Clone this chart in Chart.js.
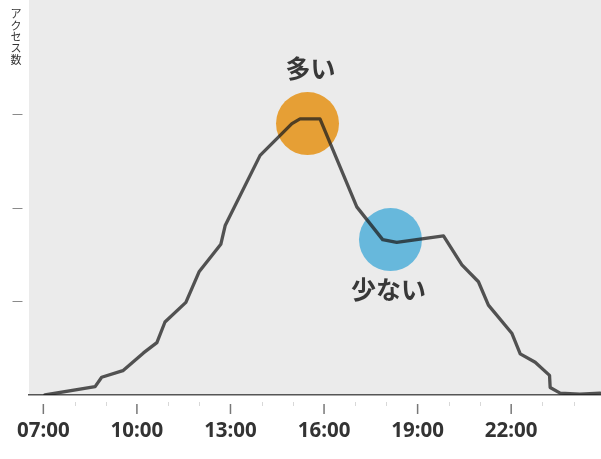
<!DOCTYPE html>
<html>
<head>
<meta charset="utf-8">
<script src="https://cdn.jsdelivr.net/npm/chart.js@4.4.1/dist/chart.umd.min.js"></script>
<style>
  html, body { margin: 0; padding: 0; background: #fff; }
  #wrap { width: 601px; height: 459px; position: relative; }
</style>
</head>
<body>
<div id="wrap"><canvas id="accessChart"></canvas></div>
<script>
// access count over the day (hour of day, relative volume)
const hours = [7.05, 8.66, 8.87, 9.55, 10.21, 10.64, 10.9, 11.57, 12.0, 12.69, 12.83, 13.95, 14.97, 15.23, 15.87, 17.05, 17.88, 18.33, 19.83, 20.42, 20.95, 21.27, 22.02, 22.29, 22.77, 23.23, 23.25, 23.57, 24.2, 24.85];
const accessCounts = [0.0, 0.09, 0.19, 0.26, 0.45, 0.56, 0.78, 0.99, 1.32, 1.61, 1.81, 2.56, 2.9, 2.95, 2.95, 2.01, 1.66, 1.63, 1.7, 1.39, 1.21, 0.96, 0.66, 0.44, 0.35, 0.21, 0.08, 0.02, 0.01, 0.02];

const xTickHours = [7, 10, 13, 16, 19, 22];
const xTickLabels = ["07:00", "10:00", "13:00", "16:00", "19:00", "22:00"];
const minorTickHours = [8, 9, 11, 12, 14, 15, 17, 18, 20, 21, 23, 24];
const yTickValues = [1, 2, 3];
const yTickLabel = "—";
const yTitle = "アクセス数";

// highlighted spots
const markerHours = [15.47, 18.13];
const markerValues = [2.9, 1.66];
const markerLabels = ["多い", "少ない"];
const markerColors = ["#E69F35", "#67B8DC"];

const plotBackground = {
  id: "plotBackground",
  beforeDraw(chart) {
    const { ctx, chartArea } = chart;
    ctx.save();
    ctx.fillStyle = "#EBEBEB";
    ctx.fillRect(chartArea.left, chartArea.top, chartArea.right - chartArea.left, chartArea.bottom - chartArea.top);
    ctx.restore();
  }
};

const extras = {
  id: "extras",
  afterDraw(chart) {
    const { ctx, chartArea } = chart;
    const x = chart.scales.x;
    ctx.save();
    // x tick marks, set a bit below the axis line
    const base = chartArea.bottom;
    ctx.lineWidth = 1;
    ctx.strokeStyle = "#d8d8d8";
    minorTickHours.forEach(h => {
      const px = Math.round(x.getPixelForValue(h)) + 0.5;
      ctx.beginPath();
      ctx.moveTo(px, base + 7);
      ctx.lineTo(px, base + 11);
      ctx.stroke();
    });
    ctx.lineWidth = 1.5;
    ctx.strokeStyle = "#777";
    xTickHours.forEach(h => {
      const px = x.getPixelForValue(h);
      ctx.beginPath();
      ctx.moveTo(px, base + 9);
      ctx.lineTo(px, base + 19);
      ctx.stroke();
    });

    // vertical y title, upright characters
    ctx.fillStyle = "#333";
    ctx.font = '11px "Noto Sans CJK JP"';
    ctx.textAlign = "center";
    ctx.textBaseline = "middle";
    Array.from(yTitle).forEach((ch, i) => {
      ctx.fillText(ch, 16, 14 + i * 11.4);
    });

    // labels for the highlighted spots
    const meta = chart.getDatasetMeta(1);
    ctx.font = 'bold 25px "Noto Sans CJK JP"';
    ctx.fillStyle = "#383838";
    meta.data.forEach((pt, i) => {
      const dy = i === 0 ? -55 : 50;
      ctx.fillText(markerLabels[i], pt.x + (i === 0 ? 3 : -2), pt.y + dy);
    });
    ctx.restore();
  }
};

function noPadding(scale) {
  scale.paddingTop = 0;
  scale.paddingBottom = 0;
  scale.paddingLeft = 0;
  scale.paddingRight = 0;
}

const ctx = document.getElementById("accessChart").getContext("2d");
new Chart(ctx, {
  type: "line",
  data: {
    datasets: [
      {
        data: hours.map((h, i) => ({ x: h, y: accessCounts[i] })),
        borderColor: "rgba(30, 30, 30, 0.75)",
        borderWidth: 3.3,
        borderJoinStyle: "round",
        borderCapStyle: "round",
        pointRadius: 0,
        fill: false,
        tension: 0,
        order: 1
      },
      {
        data: markerHours.map((h, i) => ({ x: h, y: markerValues[i] })),
        showLine: false,
        pointRadius: 31.5,
        pointHoverRadius: 31.5,
        pointBorderWidth: 0,
        pointBackgroundColor: markerColors,
        order: 2
      }
    ]
  },
  options: {
    responsive: true,
    maintainAspectRatio: false,
    animation: false,
    events: [],
    layout: { padding: 0, autoPadding: false },
    plugins: {
      legend: { display: false },
      tooltip: { enabled: false }
    },
    scales: {
      x: {
        type: "linear",
        min: 6.54,
        max: 24.88,
        afterFit(scale) { scale.height = 64; noPadding(scale); },
        afterBuildTicks(scale) { scale.ticks = xTickHours.map(v => ({ value: v })); },
        grid: { display: false, drawTicks: false },
        border: { display: true, color: "#555", width: 1.5 },
        ticks: {
          padding: 24,
          color: "#333",
          font: { family: "Noto Sans", size: 20.5, weight: "bold" },
          callback: v => xTickLabels[xTickHours.indexOf(v)] ?? "",
          maxRotation: 0,
          autoSkip: false
        }
      },
      y: {
        min: 0,
        max: 4.22,
        afterFit(scale) { scale.width = 29; noPadding(scale); },
        afterBuildTicks(scale) { scale.ticks = yTickValues.map(v => ({ value: v })); },
        grid: { display: false, drawTicks: false },
        border: { display: false },
        ticks: {
          padding: 6,
          color: "#666",
          font: { family: "DejaVu Sans", size: 11 },
          callback: () => yTickLabel
        }
      }
    }
  },
  plugins: [plotBackground, extras]
});
</script>
</body>
</html>
